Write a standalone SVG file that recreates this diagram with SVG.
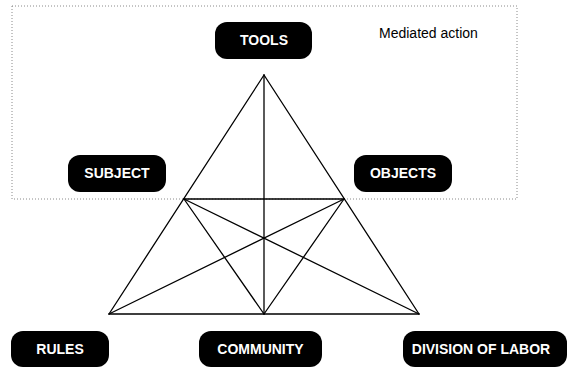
<svg xmlns="http://www.w3.org/2000/svg" width="569" height="368" viewBox="0 0 569 368">
  <style>
    .box rect { fill: #000; }
    .box text { fill: #fff; font-family: "Liberation Sans", Arial, sans-serif; font-weight: bold; font-size: 14px; text-anchor: middle; }
    .edge { stroke: #000; stroke-width: 1.3; fill: none; stroke-linecap: round; }
    .frame { fill: none; stroke: #8a8a8a; stroke-width: 1; stroke-dasharray: 1 2; }
    .note { font-family: "Liberation Sans", Arial, sans-serif; font-size: 14px; fill: #000; }
  </style>

  <!-- mediated action frame -->
  <g id="mediated-action">
    <rect class="frame" x="12" y="6" width="505" height="193"/>
    <text class="note" x="379" y="38">Mediated action</text>
  </g>

  <!-- triangle connectors -->
  <g id="connectors">
    <line class="edge" x1="264" y1="75" x2="109" y2="314"/>
    <line class="edge" x1="264" y1="75" x2="419" y2="314"/>
    <line class="edge" x1="264" y1="75" x2="264" y2="314"/>
    <line class="edge" x1="109" y1="314" x2="419" y2="314"/>
    <line class="edge" x1="184" y1="199" x2="344" y2="199"/>
    <line class="edge" x1="184" y1="199" x2="264" y2="314"/>
    <line class="edge" x1="184" y1="199" x2="419" y2="314"/>
    <line class="edge" x1="344" y1="199" x2="264" y2="314"/>
    <line class="edge" x1="344" y1="199" x2="109" y2="314"/>
  </g>

  <g id="tools" class="box">
    <rect x="215" y="22" width="97" height="37" rx="12"/>
    <text x="264" y="45">TOOLS</text>
  </g>
  <g id="subject" class="box">
    <rect x="68" y="155" width="98" height="37" rx="12"/>
    <text x="117" y="178">SUBJECT</text>
  </g>
  <g id="objects" class="box">
    <rect x="354" y="155" width="98" height="37" rx="12"/>
    <text x="403" y="178">OBJECTS</text>
  </g>
  <g id="rules" class="box">
    <rect x="11" y="331" width="98" height="36" rx="12"/>
    <text x="60" y="354">RULES</text>
  </g>
  <g id="community" class="box">
    <rect x="199" y="331" width="123" height="36" rx="12"/>
    <text x="260.5" y="354">COMMUNITY</text>
  </g>
  <g id="division-of-labor" class="box">
    <rect x="403" y="331" width="164" height="36" rx="12"/>
    <text x="481" y="354">DIVISION OF LABOR</text>
  </g>
</svg>
